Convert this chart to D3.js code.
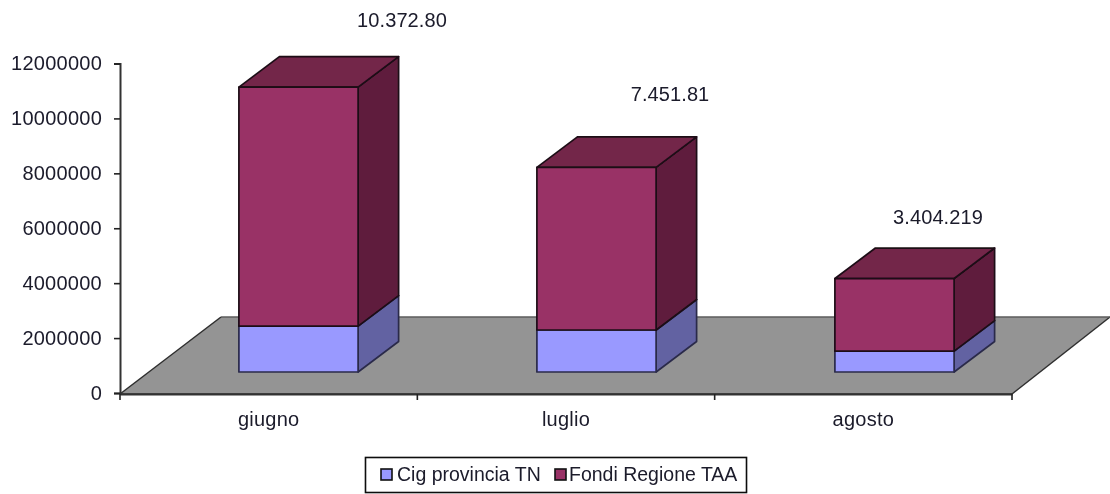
<!DOCTYPE html>
<html>
<head>
<meta charset="utf-8">
<script src="https://cdn.jsdelivr.net/npm/d3@7"></script>
<style>
  html, body { margin: 0; padding: 0; background: #fff; }
  text { font-family: "Liberation Sans", Arial, sans-serif; fill: #1a1a2a; }
</style>
</head>
<body>
<svg id="chart" width="1110" height="494"></svg>
<script>
const months = ["giugno", "luglio", "agosto"];
const cigProvincia = [1670000, 1530000, 760000];
const fondiRegione = [8702800, 5921810, 2644219];
const totalLabels = ["10.372.80", "7.451.81", "3.404.219"];
const yTicks = [0, 2000000, 4000000, 6000000, 8000000, 10000000, 12000000];
const seriesNames = ["Cig provincia TN", "Fondi Regione TAA"];

// hand placed in the original, so not tied to bar tops
const labelPos = [[402, 27], [670, 101], [938, 224]];

const svg = d3.select("#chart");
const defs = svg.append("defs");
defs.append("filter").attr("id", "soft")
  .attr("x", "-5%").attr("y", "-5%").attr("width", "110%").attr("height", "110%")
  .append("feGaussianBlur").attr("stdDeviation", 0.6);

const g = svg.append("g").attr("filter", "url(#soft)");

var x = d3.scaleBand().domain(months).range([120, 1012]).paddingInner(0.6).paddingOuter(0.3),
  // bars drift a little from the axis ticks in the original
  xBars = d3.scaleBand().domain(months).range([120, 1014]).paddingInner(0.6).paddingOuter(0.3),
  y = d3.scaleLinear().domain([0, 12000000]).range([393, 63.5]);

// oblique offsets of the fake 3d
const floorDepth = { x: 100, y: -77 },
  barDepth = { x: 40.5, y: -30.5 },
  barShift = { x: 29.5, y: -21 };

const colors = {
  cig: { front: "#9999ff", side: "#6262a2", top: "#7a7ad0", edge: "#2a2a4a" },
  fondi: { front: "#993366", side: "#5f1f3d", top: "#732549", edge: "#1c0c16" }
};

function poly(points) {
  return "M" + points.map(function(p) { return p.join(","); }).join("L") + "Z";
}

// floor
const x0 = x.range()[0], x1 = x.range()[1], y0 = y(0) + 1;
const floorPts = [[x0, y0], [x1, y0], [x1 + floorDepth.x - 2, y0 + floorDepth.y],
  [x0 + floorDepth.x + 1, y0 + floorDepth.y]];
g.append("path")
  .attr("d", poly(floorPts))
  .attr("fill", "#949494");
// back edge is lighter than the others
[[0, 1, "#2e2e2e"], [1, 2, "#2e2e2e"], [2, 3, "#5c5c5c"], [3, 0, "#2e2e2e"]].forEach(function(e) {
  g.append("line")
    .attr("x1", floorPts[e[0]][0]).attr("y1", floorPts[e[0]][1])
    .attr("x2", floorPts[e[1]][0]).attr("y2", floorPts[e[1]][1])
    .attr("stroke", e[2])
    .attr("stroke-width", 1.5);
});

// axes
const yAxis = g.append("g")
  .attr("class", "axis axis--y")
  .attr("transform", "translate(120,0)")
  .call(d3.axisLeft(y).tickValues(yTicks).tickFormat(d3.format("d")).tickSize(6).tickPadding(12));

const xAxis = g.append("g")
  .attr("class", "axis axis--x")
  .attr("transform", "translate(0," + y0 + ")")
  .call(d3.axisBottom(x).tickSize(0).tickPadding(18));

// ticks between categories, the band axis only puts them at the centres
xAxis.selectAll(".boundary")
  .data([0, 1, 2, 3])
  .enter()
  .append("line")
  .attr("class", "boundary")
  .attr("x1", function(d) { return x0 + d * x.step(); })
  .attr("x2", function(d) { return x0 + d * x.step(); })
  .attr("y1", 0)
  .attr("y2", 6)
  .attr("stroke", "#333");

svg.selectAll(".axis path.domain").attr("stroke", "#333").attr("stroke-width", 2);
svg.selectAll(".axis line").attr("stroke", "#222").attr("stroke-width", 1.6);
yAxis.selectAll("text").attr("font-size", 20).attr("fill", "#1a1a2a").attr("letter-spacing", 0.25)
  .attr("dy", "0.3em");
xAxis.selectAll("text").attr("font-size", 20).attr("fill", "#1a1a2a").attr("letter-spacing", 0.25)
  .attr("dx", 0);

// stacked boxes
function drawBox(parent, month, from, to, c) {
  const left = xBars(month) + barShift.x,
    right = left + xBars.bandwidth(),
    bottom = y(from) + barShift.y,
    top = y(to) + barShift.y,
    dx = barDepth.x,
    dy = barDepth.y;

  [
    [poly([[right, bottom], [right + dx, bottom + dy], [right + dx, top + dy], [right, top]]), c.side],
    [poly([[left, top], [right, top], [right + dx, top + dy], [left + dx, top + dy]]), c.top],
    [poly([[left, bottom], [right, bottom], [right, top], [left, top]]), c.front]
  ].forEach(function(face) {
    parent.append("path")
      .attr("d", face[0])
      .attr("fill", face[1])
      .attr("stroke", c.edge)
      .attr("stroke-width", 1.7)
      .attr("stroke-linejoin", "round");
  });
}

months.forEach(function(m, i) {
  const box = g.append("g").attr("class", "bar");
  drawBox(box, m, 0, cigProvincia[i], colors.cig);
  drawBox(box, m, cigProvincia[i], cigProvincia[i] + fondiRegione[i], colors.fondi);
});

// totals
g.selectAll(".total")
  .data(totalLabels)
  .enter()
  .append("text")
  .attr("class", "total")
  .attr("x", function(d, i) { return labelPos[i][0]; })
  .attr("y", function(d, i) { return labelPos[i][1]; })
  .attr("text-anchor", "middle")
  .attr("font-size", 20)
  .attr("letter-spacing", 0.1)
  .text(function(d) { return d; });

// legend
const legend = g.append("g").attr("class", "legend");
legend.append("rect")
  .attr("x", 365.5).attr("y", 457.5).attr("width", 381).attr("height", 35)
  .attr("fill", "#fff").attr("stroke", "#111").attr("stroke-width", 1.6);

const legendItems = [
  { name: seriesNames[0], color: colors.cig.front, sx: 381, tx: 397 },
  { name: seriesNames[1], color: colors.fondi.front, sx: 555, tx: 569 }
];
legendItems.forEach(function(d) {
  legend.append("rect")
    .attr("x", d.sx).attr("y", 469).attr("width", 11).attr("height", 11)
    .attr("fill", d.color).attr("stroke", "#111").attr("stroke-width", 1.6);
  legend.append("text")
    .attr("x", d.tx).attr("y", 481)
    .attr("font-size", 19.5)
    .text(d.name);
});
</script>
</body>
</html>
